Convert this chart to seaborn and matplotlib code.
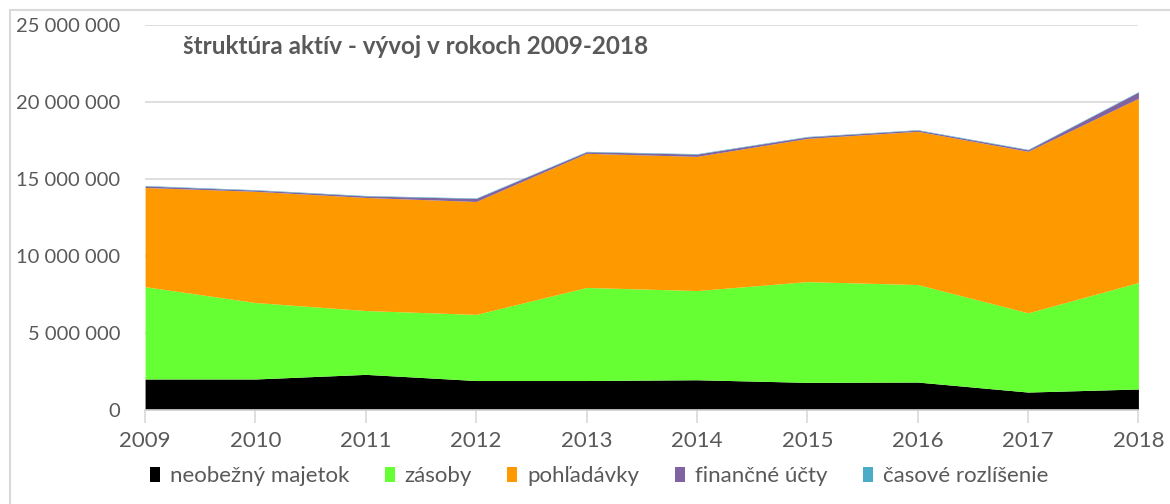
import matplotlib
matplotlib.use("Agg")
import matplotlib.pyplot as plt
import seaborn as sns
from matplotlib.ticker import FuncFormatter, MultipleLocator
from matplotlib.lines import Line2D

# data (EUR)
years = [2009, 2010, 2011, 2012, 2013, 2014, 2015, 2016, 2017, 2018]
neobezny_majetok = [2000000, 2000000, 2300000, 1900000, 1900000, 1950000, 1780000, 1800000, 1150000, 1350000]
zasoby = [6000000, 4970000, 4150000, 4300000, 6050000, 5800000, 6550000, 6340000, 5150000, 6920000]
pohladavky = [6450000, 7230000, 7350000, 7340000, 8720000, 8720000, 9310000, 9960000, 10500000, 11980000]
financne_ucty = [100000, 80000, 100000, 200000, 100000, 150000, 100000, 80000, 100000, 400000]
casove_rozlisenie = [30000, 30000, 30000, 30000, 30000, 30000, 30000, 30000, 30000, 30000]

labels = ["neobežný majetok", "zásoby", "pohľadávky", "finančné účty", "časové rozlíšenie"]
colors = ["#000000", "#66FF33", "#FF9900", "#8064A2", "#4BACC6"]

sns.set_theme(style="white")
plt.rcParams["font.family"] = ["Lato", "DejaVu Sans"]

fig = plt.figure(figsize=(11.7, 5.04), dpi=100)
ax = fig.add_axes([0.124, 0.187, 0.849, 0.763])

ax.stackplot(years, neobezny_majetok, zasoby, pohladavky, financne_ucty, casove_rozlisenie,
             labels=labels, colors=colors, linewidth=0)

ax.set_xlim(years[0], years[-1])
ax.set_ylim(0, 25000000)
ax.yaxis.set_major_locator(MultipleLocator(5000000))
ax.yaxis.set_major_formatter(FuncFormatter(lambda v, _: f"{v:,.0f}".replace(",", " ")))
ax.set_xticks(years)
ax.grid(axis="y", color="#D9D9D9", linewidth=1.2)
ax.set_axisbelow(True)

for side in ["top", "right", "left"]:
    ax.spines[side].set_visible(False)
ax.spines["bottom"].set_color("#D9D9D9")
ax.spines["bottom"].set_linewidth(1.2)
ax.tick_params(axis="x", bottom=True, length=9, width=1.2, color="#D9D9D9",
               labelsize=16, labelcolor="#595959", pad=6)
ax.tick_params(axis="y", left=False, labelsize=14.5, labelcolor="#595959", pad=12)

ax.text(0.038, 0.945, "štruktúra aktív - vývoj v rokoch 2009-2018", transform=ax.transAxes,
        fontsize=17.5, fontweight="bold", color="#595959", va="center", ha="left")

ax.legend(loc="upper center", bbox_to_anchor=(0.457, -0.095), ncol=5, frameon=False,
          fontsize=16, labelcolor="#595959", handlelength=0.45, handleheight=0.6,
          handletextpad=0.45, columnspacing=1.6)

# chart area border (only top and left edges are visible in the screenshot)
fig.add_artist(Line2D([0.0085, 0.0085], [0.0, 0.98], transform=fig.transFigure,
                      color="#D9D9D9", linewidth=1.5))
fig.add_artist(Line2D([0.0085, 1.0], [0.98, 0.98], transform=fig.transFigure,
                      color="#D9D9D9", linewidth=1.5))

fig.savefig("out.png", dpi=100)
plt.close(fig)
